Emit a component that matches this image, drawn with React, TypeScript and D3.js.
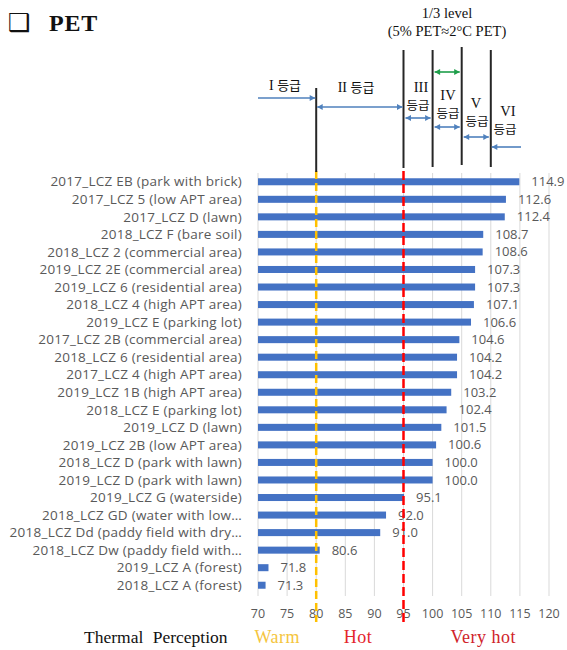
import * as d3 from "d3";

const categories = [
  "2017_LCZ EB (park with brick)",
  "2017_LCZ 5 (low APT area)",
  "2017_LCZ D (lawn)",
  "2018_LCZ F (bare soil)",
  "2018_LCZ 2 (commercial area)",
  "2019_LCZ 2E (commercial area)",
  "2019_LCZ 6 (residential area)",
  "2018_LCZ 4 (high APT area)",
  "2019_LCZ E (parking lot)",
  "2017_LCZ 2B (commercial area)",
  "2018_LCZ 6 (residential area)",
  "2017_LCZ 4 (high APT area)",
  "2019_LCZ 1B (high APT area)",
  "2018_LCZ E (parking lot)",
  "2019_LCZ D (lawn)",
  "2019_LCZ 2B (low APT area)",
  "2018_LCZ D (park with lawn)",
  "2019_LCZ D (park with lawn)",
  "2019_LCZ G (waterside)",
  "2018_LCZ GD (water with low…",
  "2018_LCZ Dd (paddy field with dry…",
  "2018_LCZ Dw (paddy field with…",
  "2019_LCZ A (forest)",
  "2018_LCZ A (forest)",
];
const petValues = [
  114.9, 112.6, 112.4, 108.7, 108.6, 107.3, 107.3, 107.1, 106.6, 104.6, 104.2, 104.2,
  103.2, 102.4, 101.5, 100.6, 100.0, 100.0, 95.1, 92.0, 91.0, 80.6, 71.8, 71.3,
];
const xTicks = [70, 75, 80, 85, 90, 95, 100, 105, 110, 115, 120];
const gradeBounds = [80, 95, 100, 105, 110];
const gradeLabels = ["I", "II", "III", "IV", "V", "VI"];
const perception = [
  { label: "Warm", at: 73.3, color: "#f5c53e" },
  { label: "Hot", at: 87.2, color: "#e4252c" },
  { label: "Very hot", at: 108.7, color: "#d0232a" },
];

const BLUE = "#4472c4";
const ARROW = "#4f81bd";
const SERIF = "'Liberation Serif', 'Times New Roman', 'Noto Sans CJK KR', serif";
const KR = "'Noto Sans CJK KR', sans-serif";
const SANS = "'Open Sans', 'Liberation Sans', sans-serif";

function Arrow({ x1, x2, y, color = ARROW, start = false, end = true }: any) {
  const h = 5.5;
  const w = 3;
  const dir = x2 > x1 ? 1 : -1;
  return (
    <g>
      <line x1={x1} x2={x2} y1={y} y2={y} stroke={color} strokeWidth={1.6} />
      {end && (
        <path
          d={`M${x2},${y} L${x2 - dir * h},${y - w} L${x2 - dir * h},${y + w} Z`}
          fill={color}
        />
      )}
      {start && (
        <path
          d={`M${x1},${y} L${x1 + dir * h},${y - w} L${x1 + dir * h},${y + w} Z`}
          fill={color}
        />
      )}
    </g>
  );
}

// roman numeral over "등급" (or inline when there is room)
function GradeLabel({ x, y, roman, kx, ky }: any) {
  if (ky === undefined) {
    return (
      <text x={x} y={y} textAnchor="middle" fill="#111">
        <tspan fontFamily={SERIF} fontSize={14}>{roman} </tspan>
        <tspan fontFamily={KR} fontSize={13}>등급</tspan>
      </text>
    );
  }
  return (
    <g>
      <text x={x} y={y} textAnchor="middle" fontSize={14.5} fontFamily={SERIF} fill="#111">
        {roman}
      </text>
      <text x={kx} y={ky} textAnchor="middle" fontSize={12.5} fontFamily={KR} fill="#111">
        등급
      </text>
    </g>
  );
}

export default function App() {
  const width = 567;
  const height = 650;
  const x = d3.scaleLinear().domain([70, 120]).range([258, 549]);
  const y = d3.scaleBand<string>().domain(categories).range([173, 594]).paddingInner(0.6).paddingOuter(0.3);
  const plotTop = 173;
  const plotBottom = 596;

  // vertical grade-boundary lines in the annotation zone
  const boundTops = [88, 50, 50, 47, 50];
  const boundBottoms = [172, 168, 167, 165, 167];

  return (
    <svg
      width={width}
      height={height}
      style={{ position: "absolute", left: 0, top: 0, background: "#fff" }}
    >
      {/* title */}
      <text x={8} y={31} fontSize={25} fontWeight="bold" fontFamily="'DejaVu Sans', sans-serif" fill="#111">
        ❑
      </text>
      <text x={49} y={31} fontSize={24} fontWeight="bold" fontFamily={SERIF} fill="#111" letterSpacing={0.8}>
        PET
      </text>

      {/* gridlines */}
      {xTicks.map((t) => (
        <line key={t} x1={x(t)} x2={x(t)} y1={plotTop} y2={plotBottom} stroke="#d9d9d9" strokeWidth={1} />
      ))}

      {/* bars */}
      {categories.map((c, i) => (
        <rect
          key={c}
          x={x(70)}
          y={y(c)}
          width={x(petValues[i]) - x(70)}
          height={y.bandwidth()}
          fill={BLUE}
        />
      ))}

      {/* category labels */}
      {categories.map((c) => (
        <text
          key={c}
          x={242}
          y={(y(c) ?? 0) + y.bandwidth() / 2}
          dy="0.35em"
          textAnchor="end"
          fontSize={13.5}
          letterSpacing={0.25}
          fontFamily={SANS}
          fill="#595959"
        >
          {c}
        </text>
      ))}

      {/* value labels */}
      {categories.map((c, i) => (
        <text
          key={c}
          x={x(petValues[i]) + 12}
          y={(y(c) ?? 0) + y.bandwidth() / 2}
          dy="0.35em"
          fontSize={13}
          fontFamily={SANS}
          fill="#595959"
        >
          {petValues[i].toFixed(1)}
        </text>
      ))}

      {/* x tick labels */}
      {xTicks.map((t) => (
        <text key={t} x={x(t)} y={618} textAnchor="middle" fontSize={12.5} fontFamily={SANS} fill="#595959">
          {t}
        </text>
      ))}

      {/* reference lines */}
      <line x1={x(80)} x2={x(80)} y1={plotTop - 2} y2={622} stroke="#ffc000" strokeWidth={2.5} strokeDasharray="8 4" />
      <line x1={x(95)} x2={x(95)} y1={plotTop - 2} y2={626} stroke="#ff0000" strokeWidth={2.5} strokeDasharray="9 4" />

      {/* grade boundaries */}
      {gradeBounds.map((b, i) => (
        <line
          key={b}
          x1={x(b)}
          x2={x(b)}
          y1={boundTops[i]}
          y2={boundBottoms[i]}
          stroke="#262626"
          strokeWidth={2}
        />
      ))}

      {/* 1/3 level header */}
      <text x={447} y={18} textAnchor="middle" fontSize={14.5} fontFamily={SERIF} fill="#111">
        1/3 level
      </text>
      <text x={447} y={36} textAnchor="middle" fontSize={14.5} fontFamily={SERIF} fill="#111">
        (5% PET≈2°C PET)
      </text>
      <Arrow x1={x(100) + 2} x2={x(105) - 2} y={72} color="#1e9e4a" start end />

      {/* grade labels and arrows */}
      <GradeLabel x={285} y={90} roman={gradeLabels[0]} />
      <Arrow x1={x(70)} x2={x(80) - 1} y={98} />

      <GradeLabel x={356} y={92} roman={gradeLabels[1]} />
      <Arrow x1={x(80) + 1} x2={x(95) - 1} y={107} start end />

      <GradeLabel x={421} y={92} kx={418} ky={110} roman={gradeLabels[2]} />
      <Arrow x1={x(95) + 2} x2={x(100) - 2} y={118} start end />

      <GradeLabel x={448} y={100} kx={448} ky={118} roman={gradeLabels[3]} />
      <Arrow x1={x(100) + 2} x2={x(105) - 2} y={127} start end />

      <GradeLabel x={476} y={108} kx={477} ky={126} roman={gradeLabels[4]} />
      <Arrow x1={x(105) + 2} x2={x(110) - 2} y={137} start end />

      <GradeLabel x={508} y={116} kx={505} ky={134} roman={gradeLabels[5]} />
      <Arrow x1={521} x2={x(110) + 1} y={147} />

      {/* thermal perception row */}
      <text x={84} y={643} fontSize={17.5} fontFamily={SERIF} fill="#111" wordSpacing={5}>
        Thermal Perception
      </text>
      {perception.map((p) => (
        <text
          key={p.label}
          x={x(p.at)}
          y={643}
          textAnchor="middle"
          fontSize={18}
          letterSpacing={0.5}
          fontFamily={SERIF}
          fill={p.color}
        >
          {p.label}
        </text>
      ))}
    </svg>
  );
}
